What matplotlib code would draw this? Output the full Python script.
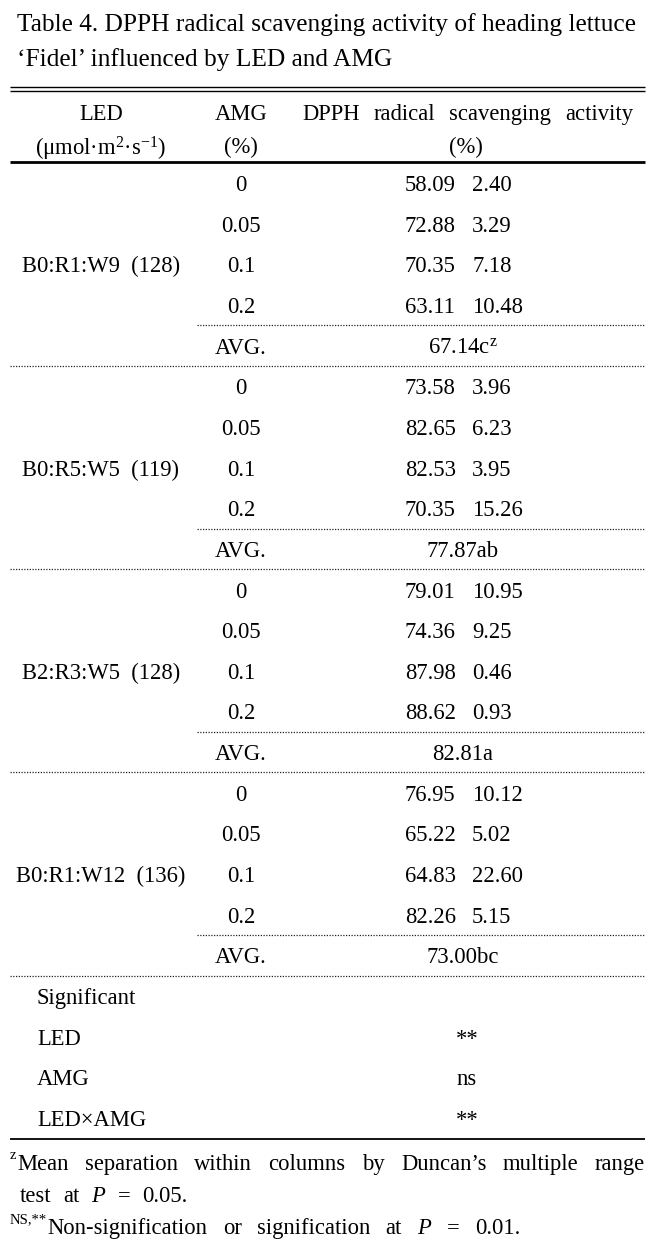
import matplotlib
matplotlib.use("Agg")
import matplotlib.pyplot as plt

plt.rcParams['font.family'] = ['Liberation Serif', 'DejaVu Serif']
plt.rcParams['mathtext.fontset'] = 'custom'
plt.rcParams['mathtext.rm'] = 'Liberation Serif'
plt.rcParams['mathtext.it'] = 'Liberation Serif:italic'

# ---------------- data ----------------
title_lines = ["Table 4. DPPH radical scavenging activity of heading lettuce",
               "\u2018Fidel\u2019 influenced by LED and AMG"]
led_labels = ["B0:R1:W9  (128)", "B0:R5:W5  (119)", "B2:R3:W5  (128)", "B0:R1:W12  (136)"]
amg_levels = ["0", "0.05", "0.1", "0.2"]
dpph_mean = [[58.09, 72.88, 70.35, 63.11],
             [73.58, 82.65, 82.53, 70.35],
             [79.01, 74.36, 87.98, 88.62],
             [76.95, 65.22, 64.83, 82.26]]
dpph_sd = [[2.40, 3.29, 7.18, 10.48],
           [3.96, 6.23, 3.95, 15.26],
           [10.95, 9.25, 0.46, 0.93],
           [10.12, 5.02, 22.60, 5.15]]
avg_values = [67.14, 77.87, 82.81, 73.00]
avg_letters = ["c$^{\\mathrm{z}}$", "ab", "a", "bc"]
sig_terms = ["LED", "AMG", "LED\u00d7AMG"]
sig_marks = ["**", "ns", "**"]

# ---------------- layout ----------------
W, H = 665, 1245
fig = plt.figure(figsize=(W / 100, H / 100), dpi=100)
ax = fig.add_axes([0, 0, 1, 1])
ax.set_xlim(0, W)
ax.set_ylim(H, 0)
ax.axis('off')

FS = 16.3
TFS = 18.3
SUPFS = 10.5
XL, XR = 10, 645
X_LED, X_AMG, X_VAL, X_AVG, X_SIGL, X_SIGV = 101, 241, 405, 463, 37, 467
Y0, DY = 183, 40.65

renderer = fig.canvas.get_renderer()
inv = ax.transData.inverted()


def txt(x, y, s, ha='center', fs=FS, **kw):
    return ax.text(x, y, s, ha=ha, va='center_baseline', fontsize=fs, color='black', **kw)


def width_of(o):
    bb = o.get_window_extent(renderer=renderer)
    p0 = inv.transform((bb.x0, bb.y0))
    p1 = inv.transform((bb.x1, bb.y0))
    return p1[0] - p0[0]


def justify(words, x0, x1, y, fs=FS):
    # each word is a str or a (superscript, main) tuple
    items = []
    for w in words:
        if isinstance(w, tuple):
            s = txt(0, y - 8, w[0], ha='left', fs=SUPFS)
            m = txt(0, y, w[1], ha='left', fs=fs)
            ws, wm = width_of(s), width_of(m)
            items.append(([(s, 0.0), (m, ws + 0.5)], ws + 0.5 + wm))
        else:
            m = txt(0, y, w, ha='left', fs=fs)
            items.append(([(m, 0.0)], width_of(m)))
    gap = (x1 - x0 - sum(it[1] for it in items)) / max(len(items) - 1, 1)
    x = x0
    for parts, w in items:
        for o, off in parts:
            o.set_x(x + off)
        x += w + gap


def hline(y, x0=XL, x1=XR, lw=1.0, dotted=False):
    ax.plot([x0, x1], [y, y], color='#222222' if dotted else 'black', lw=lw,
            ls=(0, (1, 1.2)) if dotted else '-', solid_capstyle='butt')


# title
txt(17, 22, title_lines[0], ha='left', fs=TFS)
txt(17, 57, title_lines[1], ha='left', fs=TFS)

# rules
hline(87, lw=1.0)
hline(90.5, lw=1.0)
hline(162, lw=2.0)

# header
txt(X_LED, 112, "LED")
txt(X_LED, 145, "(\u03bcmol\u00b7m$^{2}$\u00b7s$^{\\mathrm{-1}}$)")
txt(X_AMG, 112, "AMG")
txt(X_AMG, 145, "(%)")
justify(["DPPH", "radical", "scavenging", "activity"], 302, 633, 112)
txt(466, 145, "(%)")

k = 0
for b, lab in enumerate(led_labels):
    ys = [Y0 + DY * (k + i) for i in range(5)]
    txt(X_LED, ys[2], lab)
    for i, lvl in enumerate(amg_levels):
        txt(X_AMG, ys[i], lvl)
        txt(X_VAL, ys[i], f"{dpph_mean[b][i]:.2f}", ha='left')
        txt(X_VAL + 67, ys[i], f"{dpph_sd[b][i]:.2f}", ha='left')
    hline(ys[3] + DY / 2, x0=197, dotted=True, lw=0.9)
    txt(X_AMG, ys[4], "AVG.")
    txt(X_AVG, ys[4], f"{avg_values[b]:.2f}" + avg_letters[b])
    hline(ys[4] + DY / 2, dotted=True, lw=0.9)
    k += 5

ys = Y0 + DY * k
txt(X_SIGL, ys, "Significant", ha='left')
for i, (t, m) in enumerate(zip(sig_terms, sig_marks)):
    y = ys + DY * (i + 1)
    txt(X_SIGL, y, t, ha='left')
    txt(X_SIGV, y, m)

hline(1139, lw=1.3)

# footnotes
justify([("z", "Mean"), "separation", "within", "columns", "by",
         "Duncan\u2019s", "multiple", "range"], 10, 645, 1162)
justify(["test", "at", "$P$", "=", "0.05."], 20, 187, 1194)
justify([("NS,**", "Non-signification"), "or", "signification", "at",
         "$P$", "=", "0.01."], 10, 520, 1226)

fig.savefig("out.png", dpi=100)
